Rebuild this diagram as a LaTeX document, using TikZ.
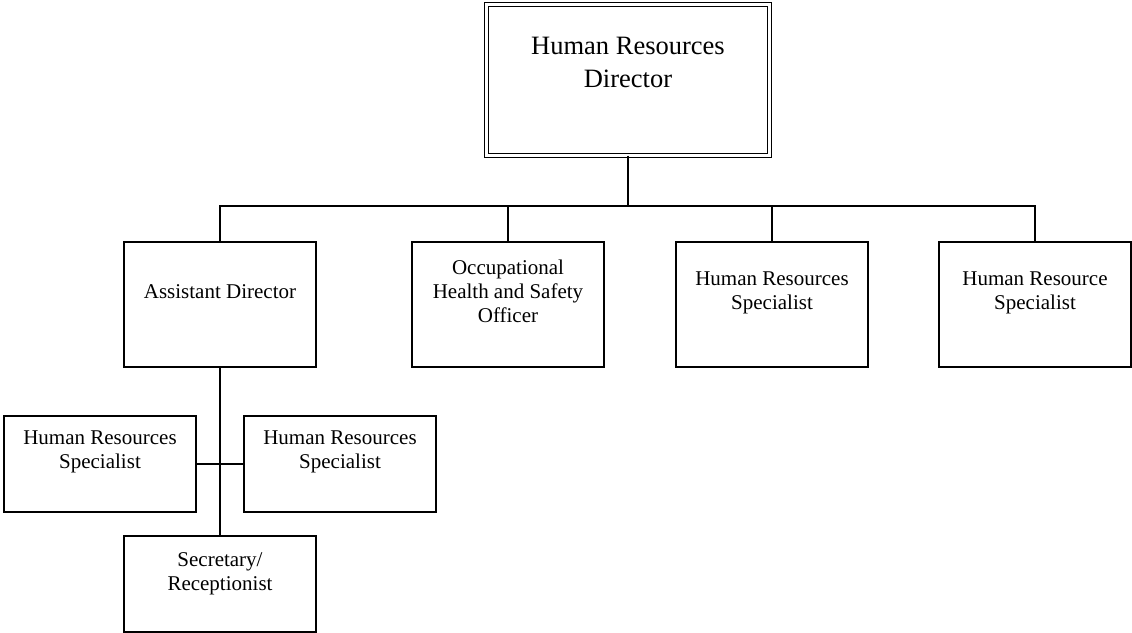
\documentclass[tikz,border=0pt]{standalone}
\usepackage{fontspec}
\setmainfont{Liberation Serif}
\begin{document}
\begin{tikzpicture}[x=1pt,y=-1pt,
  box/.style={draw=black,line width=1.6pt,minimum width=192pt,minimum height=125pt,inner sep=0pt,outer sep=0pt},
  sbox/.style={box,minimum height=96pt},
  topbox/.style={draw=black,double=white,double distance=2.8pt,line width=1.3pt,minimum width=283pt,minimum height=151pt,inner sep=0pt,outer sep=0pt},
  txt/.style={align=center,inner sep=0pt,font={\fontsize{21}{24}\selectfont}},
  bigtxt/.style={align=center,inner sep=0pt,font={\fontsize{26.5}{33}\selectfont}},
  conn/.style={draw=black,line width=1.6pt}]
\useasboundingbox (0,0) rectangle (1132,632);
% boxes
\node[topbox] (top) at (628,80) {};
\node[box] (ad) at (220,304.5) {};
\node[box] (occ) at (508,304.5) {};
\node[box] (hrs) at (772,304.5) {};
\node[box] (hrs2) at (1035,304.5) {};
\node[sbox] (lhr) at (100,464) {};
\node[sbox] (rhr) at (340,464) {};
\node[sbox] (sec) at (220,584) {};
% texts
\node[bigtxt] (topt) at ([yshift=17.5pt]top.center) {Human Resources\\Director};
\node[txt] (adt) at ([yshift=12.5pt]ad.center) {Assistant Director};
\node[txt] (occt) at ([yshift=13.5pt]occ.center) {Occupational\\Health and Safety\\Officer};
\node[txt] (hrst) at ([yshift=11.5pt]hrs.center) {Human Resources\\Specialist};
\node[txt] (hrs2t) at ([yshift=11.5pt]hrs2.center) {Human Resource\\Specialist};
\node[txt] (lhrt) at ([yshift=12pt]lhr.center) {Human Resources\\Specialist};
\node[txt] (rhrt) at ([yshift=12pt]rhr.center) {Human Resources\\Specialist};
\node[txt] (sect) at ([yshift=10.5pt]sec.center) {Secretary/\\Receptionist};
% connectors
\coordinate (bus) at (628,206);
\draw[conn] (top.south) -- (bus);
\draw[conn] (ad.north) -- (ad.north |- bus) -- (hrs2.north |- bus) -- (hrs2.north);
\draw[conn] (occ.north) -- (occ.north |- bus);
\draw[conn] (hrs.north) -- (hrs.north |- bus);
\draw[conn] (ad.south) -- (sec.north);
\draw[conn] (lhr.east) -- (rhr.west);
\end{tikzpicture}
\end{document}
